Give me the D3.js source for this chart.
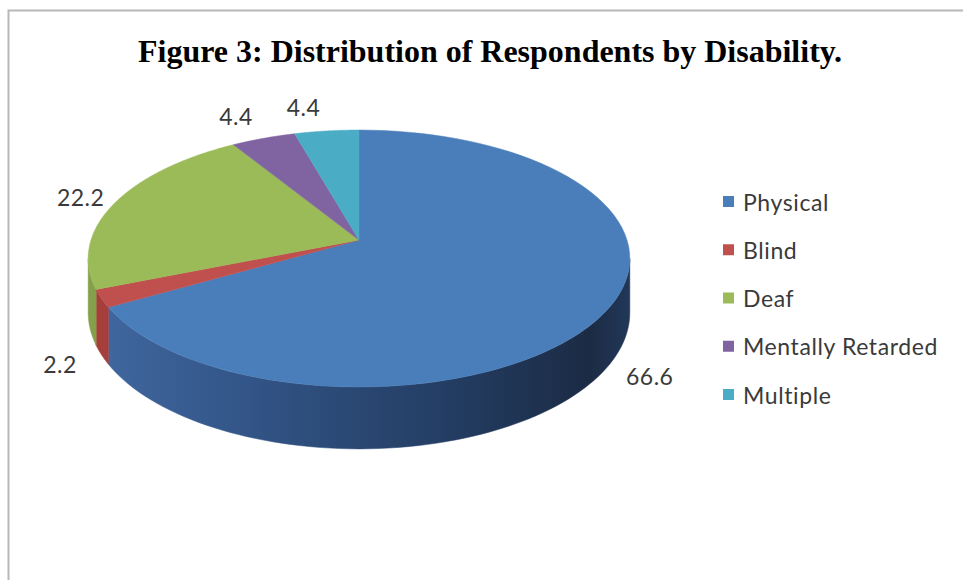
<!DOCTYPE html>
<html>
<head>
<meta charset="utf-8">
<script src="https://cdn.jsdelivr.net/npm/d3@7"></script>
<style>
  body { margin: 0; background: #fff; }
  svg { display: block; }
</style>
</head>
<body>
<svg id="chart" width="963" height="580"></svg>
<script>
// disability breakdown of respondents (percent)
const categories = ['Physical', 'Blind', 'Deaf', 'Mentally Retarded', 'Multiple'];
const values = [66.6, 2.2, 22.2, 4.4, 4.4];
const valueLabels = ['66.6', '2.2', '22.2', '4.4', '4.4'];
const title = 'Figure 3: Distribution of Respondents by Disability.';

const topColors = ['#4a7ebb', '#c0504d', '#9bbb59', '#8064a2', '#4bacc6'];
const sideColors = ['url(#physSide)', '#a63e3b', '#84a04a', '#6a5288', '#3d93aa'];

const svg = d3.select('#chart');
const W = 963, H = 580;

// 3D pie geometry: tilted disc with a little perspective (back rim smaller)
const pie3d = {cx: 359, cy: 240, R: 268, S: 125.8, k: 0.144, depth: 53};
const proj = (theta, r = 1) => {
  const X = r * Math.sin(theta), Z = r * Math.cos(theta);
  const w = 1 + pie3d.k * Z;
  return [pie3d.cx + pie3d.R * X / w, pie3d.cy - pie3d.S * Z / w];
};
const drop = theta => pie3d.depth / (1 + pie3d.k * Math.cos(theta));
const arcPoints = (a0, a1, r = 1) => d3.range(0, 1.0001, 1 / 80).map(t => proj(a0 + (a1 - a0) * t, r));
const line = d3.line();

const color = d3.scaleOrdinal(categories, topColors);
const sideColor = d3.scaleOrdinal(categories, sideColors);

const defs = svg.append('defs');
const grad = defs.append('linearGradient')
  .attr('id', 'physSide')
  .attr('gradientUnits', 'userSpaceOnUse')
  .attr('x1', 100).attr('x2', 632).attr('y1', 0).attr('y2', 0);
[[0, '#4067a0'], [0.35, '#2f5080'], [0.7, '#223a5e'], [0.92, '#1b2b44'], [1, '#22385a']]
  .forEach(([o, c]) => grad.append('stop').attr('offset', o).attr('stop-color', c));

// frame
svg.append('path')
  .attr('d', `M8.5,${H}V10.5H${W}`)
  .attr('fill', 'none')
  .attr('stroke', '#b8b8b8')
  .attr('stroke-width', 2);

// title
svg.append('text')
  .attr('x', 490).attr('y', 62)
  .attr('text-anchor', 'middle')
  .attr('font-family', '"Liberation Serif", "Times New Roman", serif')
  .attr('font-weight', 'bold')
  .attr('font-size', 32)
  .attr('textLength', 704)
  .attr('lengthAdjust', 'spacingAndGlyphs')
  .attr('fill', '#000')
  .text(title);

const arcs = d3.pie().sort(null).startAngle(0).endAngle(2 * Math.PI)(values)
  .map((d, i) => ({...d, name: categories[i], label: valueLabels[i]}));

// visible part of the rim (front half, between the silhouette points)
const vis0 = Math.acos(-pie3d.k), vis1 = 2 * Math.PI - Math.acos(-pie3d.k);

const g = svg.append('g');

arcs.forEach(d => {
  const a = Math.max(d.startAngle, vis0), b = Math.min(d.endAngle, vis1);
  if (a >= b) return;
  const topRim = arcPoints(a, b);
  const steps = d3.range(0, 1.0001, 1 / 80).map(t => a + (b - a) * t);
  const botRim = steps.map(t => { const p = proj(t); return [p[0], p[1] + drop(t)]; }).reverse();
  g.append('path')
    .attr('d', line(topRim.concat(botRim)) + 'Z')
    .attr('fill', sideColor(d.name))
    .attr('stroke', sideColor(d.name))
    .attr('stroke-width', 0.5);
});

arcs.forEach(d => {
  const pts = [proj(0, 0)].concat(arcPoints(d.startAngle, d.endAngle));
  g.append('path')
    .attr('d', line(pts) + 'Z')
    .attr('fill', color(d.name))
    .attr('stroke', color(d.name))
    .attr('stroke-width', 0.5);
});

// value labels just outside the rim; the two thin slices at the top are spread apart
const labelShift = {'Mentally Retarded': [-15, -9], 'Multiple': [-19, -10]};
arcs.forEach(d => {
  const mid = (d.startAngle + d.endAngle) / 2;
  const p = proj(mid, 1.15);
  const front = Math.cos(mid) < 0 ? drop(mid) : 0;
  const s = labelShift[d.name] || [0, 0];
  svg.append('text')
    .attr('x', p[0] + s[0])
    .attr('y', p[1] + front + s[1])
    .attr('text-anchor', 'middle')
    .attr('dominant-baseline', 'central')
    .attr('font-family', 'Lato, "Open Sans", sans-serif')
    .attr('font-size', 23)
    .attr('letter-spacing', 0.5)
    .attr('fill', '#3a3a3a')
    .text(d.label);
});

// legend
const legend = svg.append('g');
const ly = d3.scalePoint(categories, [201.5, 394.5]);
categories.forEach(c => {
  legend.append('rect')
    .attr('x', 723).attr('y', ly(c) - 5.5)
    .attr('width', 11).attr('height', 11)
    .attr('fill', color(c));
  legend.append('text')
    .attr('x', 743).attr('y', ly(c))
    .attr('dominant-baseline', 'central')
    .attr('font-family', 'Lato, "Open Sans", sans-serif')
    .attr('font-size', 23)
    .attr('letter-spacing', 0.6)
    .attr('fill', '#3a3a3a')
    .text(c);
});
</script>
</body>
</html>
